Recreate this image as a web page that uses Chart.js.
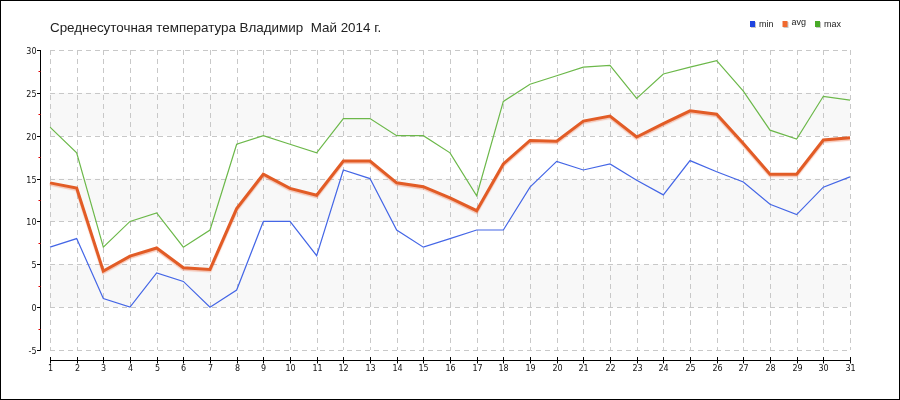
<!DOCTYPE html>
<html><head><meta charset="utf-8">
<script src="https://cdn.jsdelivr.net/npm/chart.js@4/dist/chart.umd.min.js"></script>
<style>html,body{margin:0;padding:0;background:#fff}canvas{display:block}</style>
</head><body>
<canvas id="c" width="900" height="400"></canvas>
<script>
const titleText = 'Среднесуточная температура Владимир  Май 2014 г.';
const days = [1,2,3,4,5,6,7,8,9,10,11,12,13,14,15,16,17,18,19,20,21,22,23,24,25,26,27,28,29,30,31];
const minTemp = [7,8,1,0,4,3,0,2,10,10,6,16,15,9,7,8,9,9,14,17,16,16.7,14.8,13.1,17.1,15.8,14.6,12,10.8,14,15.2];
const avgTemp = [14.5,13.9,4.2,5.95,6.9,4.6,4.4,11.5,15.5,13.85,13.05,17.05,17.05,14.5,14.05,12.75,11.25,16.7,19.45,19.35,21.7,22.3,19.85,21.4,22.9,22.5,19.1,15.5,15.5,19.5,19.75];
const maxTemp = [21,18,7,10,11,7,9,19,20,19,18,22,22,20,20,18,13,24,26,27,28,28.2,24.35,27.2,28,28.75,25.2,20.65,19.6,24.6,24.15];
const seriesNames = ['min','avg','max'];
const yTicks = [-5,0,5,10,15,20,25,30];
const yMinorTicks = [-2.5,2.5,7.5,12.5,17.5,22.5,27.5];
const bands = [[0,5],[10,15],[20,25]];

const lineColors = ['#4466e6','#e25c26','#6cb84a'];
const legendColors = ['#1f44e0','#f06a30','#48aa28'];
const FONT = '"Liberation Sans", Arial, sans-serif';
const TICKFONT = '8px "DejaVu Sans", Verdana, sans-serif';

const decor = {
  id: 'decor',
  beforeDraw(chart) {
    const ctx = chart.ctx;
    ctx.save();
    ctx.fillStyle = '#fff';
    ctx.fillRect(0, 0, chart.width, chart.height);
    ctx.restore();
  },
  beforeDatasetsDraw(chart) {
    const ctx = chart.ctx, x = chart.scales.x, y = chart.scales.y;
    const a = chart.chartArea;
    ctx.save();
    ctx.fillStyle = '#f8f8f8';
    bands.forEach(([lo, hi]) => {
      const y1 = y.getPixelForValue(hi), y2 = y.getPixelForValue(lo);
      ctx.fillRect(a.left, y1, a.right - a.left, y2 - y1);
    });
    ctx.strokeStyle = '#c8c8c8';
    ctx.lineWidth = 1;
    ctx.setLineDash([5, 4]);
    yTicks.forEach(v => {
      const py = Math.round(y.getPixelForValue(v)) + 0.5;
      ctx.beginPath(); ctx.moveTo(a.left, py); ctx.lineTo(a.right, py); ctx.stroke();
    });
    days.forEach((d, i) => {
      const px = Math.round(x.getPixelForValue(i)) + 0.5;
      ctx.beginPath(); ctx.moveTo(px, a.top); ctx.lineTo(px, a.bottom); ctx.stroke();
    });
    ctx.restore();
  },
  beforeDatasetDraw(chart, args) {
    if (args.index === 1) {
      const ctx = chart.ctx;
      ctx.save();
      ctx.shadowColor = 'rgba(238,130,95,0.45)';
      ctx.shadowOffsetX = 0;
      ctx.shadowOffsetY = 1.5;
      ctx.shadowBlur = 1;
    }
  },
  afterDatasetDraw(chart, args) {
    if (args.index === 1) chart.ctx.restore();
  },
  afterDraw(chart) {
    const ctx = chart.ctx, x = chart.scales.x, y = chart.scales.y;
    const a = chart.chartArea;
    ctx.save();
    ctx.setLineDash([]);
    // Y axis
    ctx.strokeStyle = '#000';
    ctx.lineWidth = 1;
    const ax = a.left - 9.5;
    ctx.beginPath(); ctx.moveTo(ax, a.top); ctx.lineTo(ax, a.bottom + 0.5); ctx.stroke();
    ctx.font = TICKFONT;
    ctx.fillStyle = '#111';
    ctx.textAlign = 'right';
    ctx.textBaseline = 'alphabetic';
    yTicks.forEach(v => {
      const py = Math.round(y.getPixelForValue(v)) + 0.5;
      ctx.beginPath(); ctx.moveTo(ax - 3.5, py); ctx.lineTo(ax, py); ctx.stroke();
      ctx.fillText(String(v), ax - 4, py + 3);
    });
    ctx.strokeStyle = '#e00000';
    yMinorTicks.forEach(v => {
      const py = Math.round(y.getPixelForValue(v)) + 0.5;
      ctx.beginPath(); ctx.moveTo(ax - 2, py); ctx.lineTo(ax, py); ctx.stroke();
    });
    // X axis
    ctx.strokeStyle = '#000';
    const ay = a.bottom + 10.5;
    ctx.beginPath(); ctx.moveTo(a.left, ay); ctx.lineTo(a.right + 1, ay); ctx.stroke();
    ctx.textAlign = 'center';
    days.forEach((d, i) => {
      const px = Math.round(x.getPixelForValue(i)) + 0.5;
      ctx.beginPath(); ctx.moveTo(px, ay - 3.5); ctx.lineTo(px, ay + 3); ctx.stroke();
      ctx.fillText(String(d), px, ay + 10);
    });
    // Legend
    ctx.font = '9px ' + FONT;
    ctx.textAlign = 'left';
    let lx = 750;
    chart.data.datasets.forEach((ds, i) => {
      ctx.fillStyle = '#c8c8c8';
      ctx.fillRect(lx + 1, 22, 5, 6);
      ctx.fillStyle = legendColors[i];
      ctx.fillRect(lx, 21, 5, 6);
      ctx.fillStyle = '#222';
      const ty = i === 1 ? 25 : 27;
      ctx.fillText(ds.label, lx + 9, ty);
      lx += 9 + ctx.measureText(ds.label).width + 9;
    });
    // Frame
    ctx.strokeStyle = '#000';
    ctx.lineWidth = 1;
    ctx.strokeRect(0.5, 0.5, chart.width - 1, chart.height - 1);
    ctx.restore();
  }
};

new Chart(document.getElementById('c'), {
  type: 'line',
  data: {
    labels: days,
    datasets: [
      { label: seriesNames[0], data: minTemp, borderColor: lineColors[0], borderWidth: 1.2 },
      { label: seriesNames[1], data: avgTemp, borderColor: lineColors[1], borderWidth: 3 },
      { label: seriesNames[2], data: maxTemp, borderColor: lineColors[2], borderWidth: 1.2 }
    ]
  },
  options: {
    responsive: false,
    animation: false,
    events: [],
    layout: { padding: { left: 50, right: 50, top: 0, bottom: 50 } },
    elements: { point: { radius: 0 }, line: { tension: 0, fill: false, borderJoinStyle: 'miter' } },
    scales: {
      x: { type: 'category', offset: false, display: false },
      y: { type: 'linear', min: -5, max: 30, display: false }
    },
    plugins: {
      legend: { display: false },
      tooltip: { enabled: false },
      title: {
        display: true,
        text: titleText,
        align: 'start',
        color: '#222',
        font: { family: FONT, size: 13.4, weight: 'normal', lineHeight: 1.2 },
        padding: { top: 19.8, bottom: 14.12 }
      }
    }
  },
  plugins: [decor]
});
</script>
</body></html>
